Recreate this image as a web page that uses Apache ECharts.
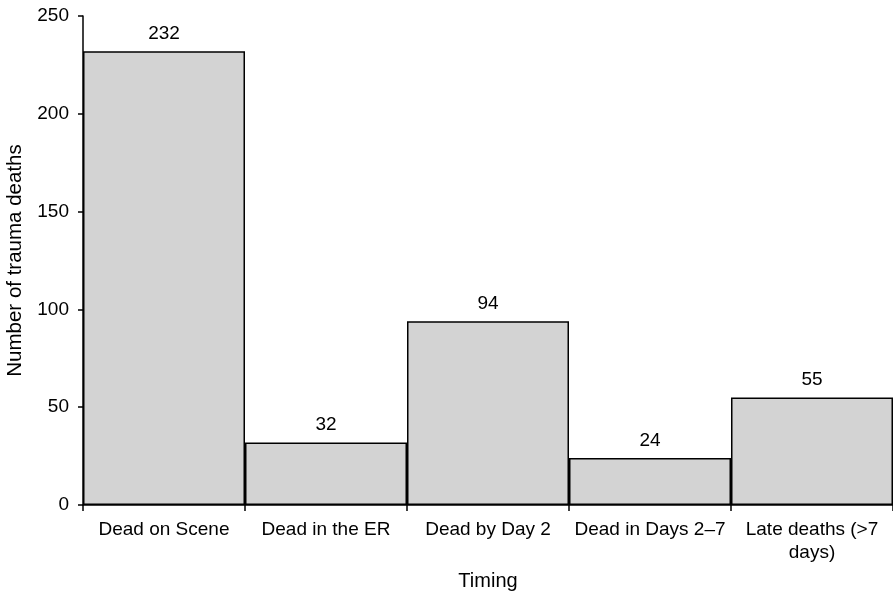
<!DOCTYPE html>
<html><head><meta charset="utf-8">
<script src="https://cdn.jsdelivr.net/npm/echarts@6/dist/echarts.min.js"></script>
<style>html,body{margin:0;padding:0;background:#fff}#c{width:893px;height:596px}</style>
</head><body><div id="c"></div>
<script>
const categories = ["Dead on Scene", "Dead in the ER", "Dead by Day 2", "Dead in Days 2\u20137", "Late deaths (>7\ndays)"];
const deaths = [232, 32, 94, 24, 55];
const yTicks = [0, 50, 100, 150, 200, 250];

const chart = echarts.init(document.getElementById('c'), null, {renderer: 'canvas'});
const font = 'Liberation Sans, Arial, sans-serif';
chart.setOption({
  animation: false,
  backgroundColor: '#fff',
  grid: {left: 83, right: 0, top: 16, bottom: 91, containLabel: false, outerBoundsMode: 'none'},
  xAxis: {
    type: 'category',
    data: categories,
    name: 'Timing',
    nameLocation: 'middle',
    nameGap: 66,
    nameTextStyle: {fontFamily: font, fontSize: 20, color: '#000'},
    axisLine: {lineStyle: {color: '#000', width: 1.5}},
    axisTick: {show: true, alignWithLabel: false, length: 6, lineStyle: {color: '#000', width: 1.5}},
    axisLabel: {fontFamily: font, fontSize: 19, color: '#000', margin: 13, lineHeight: 23, interval: 0}
  },
  yAxis: {
    type: 'value',
    min: yTicks[0], max: yTicks[yTicks.length - 1], interval: 50,
    name: 'Number of trauma deaths',
    nameLocation: 'middle',
    nameGap: 57,
    nameTextStyle: {fontFamily: font, fontSize: 20.5, color: '#000'},
    axisLine: {show: true, lineStyle: {color: '#000', width: 1.5}},
    axisTick: {show: true, length: 5, lineStyle: {color: '#000', width: 1.5}},
    axisLabel: {fontFamily: font, fontSize: 19, color: '#000', margin: 14},
    splitLine: {show: false}
  },
  series: [{
    type: 'bar',
    data: deaths,
    barCategoryGap: '0%',
    itemStyle: {color: '#d3d3d3', borderColor: '#000', borderWidth: 1.5},
    label: {show: true, position: 'top', distance: 8, fontFamily: font, fontSize: 19, color: '#000'}
  }]
});
</script></body></html>
